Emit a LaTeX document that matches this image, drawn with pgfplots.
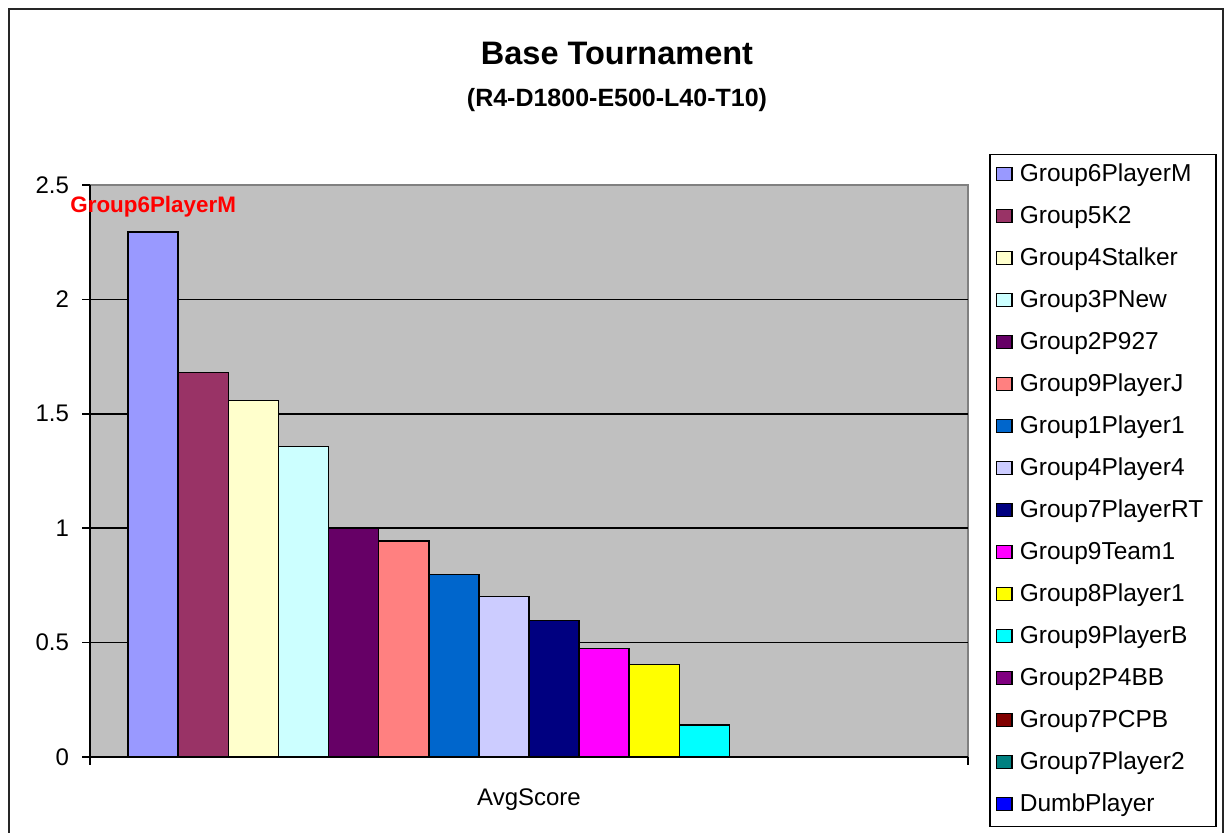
\documentclass[border=0pt]{standalone}
\usepackage{fontspec}
\setmainfont{Liberation Sans}
\usepackage{pgfplots}
\pgfplotsset{compat=1.18}
\definecolor{c1}{HTML}{9999FF}
\definecolor{c2}{HTML}{993366}
\definecolor{c3}{HTML}{FFFFCC}
\definecolor{c4}{HTML}{CCFFFF}
\definecolor{c5}{HTML}{660066}
\definecolor{c6}{HTML}{FF8080}
\definecolor{c7}{HTML}{0066CC}
\definecolor{c8}{HTML}{CCCCFF}
\definecolor{c9}{HTML}{000080}
\definecolor{c10}{HTML}{FF00FF}
\definecolor{c11}{HTML}{FFFF00}
\definecolor{c12}{HTML}{00FFFF}
\definecolor{c13}{HTML}{800080}
\definecolor{c14}{HTML}{800000}
\definecolor{c15}{HTML}{008080}
\definecolor{c16}{HTML}{0000FF}
\definecolor{plotgray}{HTML}{C0C0C0}
\begin{document}
\begin{tikzpicture}
\path[use as bounding box] (0,0) rectangle (612.5pt,416.5pt);
\fill[white] (0,0) rectangle (612.5pt,416.5pt);
\draw[line width=0.9pt, black!85] (4.5pt,-2pt) rectangle (611.3pt,412pt);
\node[anchor=base, font=\bfseries\fontsize{16.25}{19}\selectfont] at (308.5pt,384pt) {Base Tournament};
\node[anchor=base, font=\bfseries\fontsize{12.5}{15}\selectfont] at (308.5pt,363pt) {(R4-D1800-E500-L40-T10)};
\begin{axis}[
  at={(45pt,38pt)}, anchor=south west,
  scale only axis, width=439pt, height=286pt,
  xmin=-0.26, xmax=17.26, ymin=0, ymax=2.5,
  clip=false,
  axis lines=left,
  axis line style={-, line width=0.75pt, black},
  every outer x axis line/.append style={-},
  every outer y axis line/.append style={-},
  axis background/.style={fill=plotgray, draw=gray, line width=0.75pt},
  xtick={-0.26,17.26}, xticklabels={},
  ytick={0,0.5,1,1.5,2}, extra y ticks={2.5}, extra y tick style={grid=none},
  ymajorgrids, grid style={black, line width=0.75pt},
  tick align=outside, major tick length=4pt,
  tick style={black, line width=0.75pt},
  /pgf/number format/assume math mode=true,
  yticklabel style={font=\fontsize{12}{14}\selectfont, xshift=-3pt},
  xlabel={AvgScore},
  xlabel style={at={(axis description cs:0.5,0)}, anchor=base, yshift=-24.5pt, font=\fontsize{12}{14}\selectfont},
  every axis plot/.append style={ybar, bar width=1, bar shift=0pt, draw=black, line width=0.75pt},
  legend image code/.code={\draw[#1] (0pt,-2.4pt) rectangle (7.8pt,4.1pt);},
  legend cell align=left,
  legend style={at={(1,1)}, anchor=north west, xshift=10.5pt, yshift=15.5pt,
    draw=black, line width=0.75pt, inner xsep=3pt, inner ysep=0pt,
    font=\fontsize{12.25}{14}\selectfont,
    nodes={text height=9pt, text depth=3pt, inner ysep=4.5pt, inner xsep=3.5pt}},
]
\addplot[fill=c1, nodes near coords={\textbf{Group6PlayerM}},
  every node near coord/.append style={anchor=base, yshift=9.5pt, inner sep=0pt, text=red, font=\bfseries\fontsize{11.2}{13}\selectfont}] coordinates {(1,2.295)};
\addplot[fill=c2] coordinates {(2,1.681)};
\addplot[fill=c3] coordinates {(3,1.557)};
\addplot[fill=c4] coordinates {(4,1.356)};
\addplot[fill=c5] coordinates {(5,1.0)};
\addplot[fill=c6] coordinates {(6,0.945)};
\addplot[fill=c7] coordinates {(7,0.797)};
\addplot[fill=c8] coordinates {(8,0.702)};
\addplot[fill=c9] coordinates {(9,0.597)};
\addplot[fill=c10] coordinates {(10,0.475)};
\addplot[fill=c11] coordinates {(11,0.405)};
\addplot[fill=c12] coordinates {(12,0.14)};
\addplot[fill=c13] coordinates {(13,0)};
\addplot[fill=c14] coordinates {(14,0)};
\addplot[fill=c15] coordinates {(15,0)};
\addplot[fill=c16] coordinates {(16,0)};
\legend{Group6PlayerM,Group5K2,Group4Stalker,Group3PNew,Group2P927,Group9PlayerJ,Group1Player1,Group4Player4,Group7PlayerRT,Group9Team1,Group8Player1,Group9PlayerB,Group2P4BB,Group7PCPB,Group7Player2,DumbPlayer}
\end{axis}
\end{tikzpicture}
\end{document}
